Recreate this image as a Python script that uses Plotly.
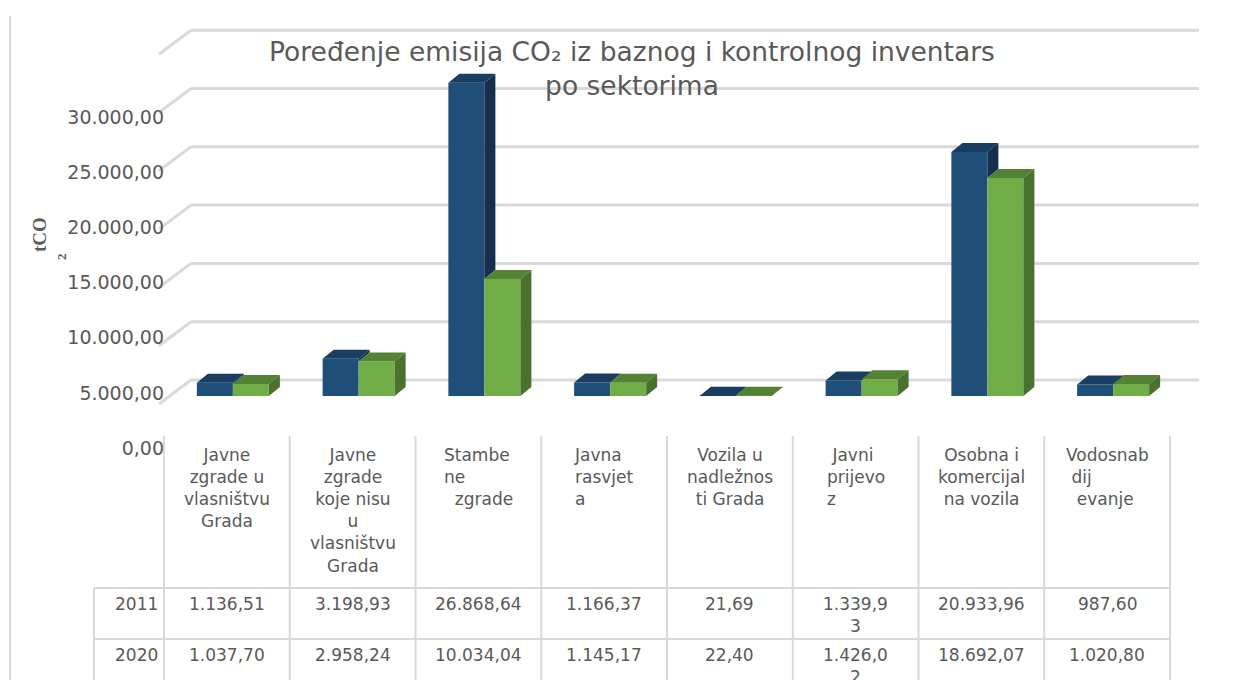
import plotly.graph_objects as go

# ---------------- data ----------------
categories = ["Javne zgrade u vlasništvu Grada", "Javne zgrade koje nisu u vlasništvu Grada",
              "Stambene zgrade", "Javna rasvjeta", "Vozila u nadležnosti Grada",
              "Javni prijevoz", "Osobna i komercijalna vozila", "Vodosnabdijevanje"]
header_labels = ["Javne<br>zgrade u<br>vlasništvu<br>Grada",
                 "Javne<br>zgrade<br>koje nisu<br>u<br>vlasništvu<br>Grada",
                 "Stambe<br>ne<br>&nbsp;&nbsp;zgrade",
                 "Javna<br>rasvjet<br>a",
                 "Vozila u<br>nadležnos<br>ti Grada",
                 "&nbsp;Javni<br>prijevo<br>z",
                 "Osobna i<br>komercijal<br>na vozila",
                 "Vodosnab<br>&nbsp;dij<br>&nbsp;&nbsp;evanje"]
header_align = ["center", "center", "left", "left", "center", "left", "center", "left"]
years = ["2011", "2020"]
values_2011 = [1136.51, 3198.93, 26868.64, 1166.37, 21.69, 1339.93, 20933.96, 987.60]
values_2020 = [1037.70, 2958.24, 10034.04, 1145.17, 22.40, 1426.02, 18692.07, 1020.80]
tick_values = [0, 5000, 10000, 15000, 20000, 25000, 30000]
title_text = "Poređenje emisija CO₂ iz baznog i kontrolnog inventars<br>po sektorima"
wrap_at = [None, None, None, None, None, 7, None, None]

# ---------------- geometry (screen pixels) ----------------
SCR_W, SCR_H = 1242, 680
PAGE_OFF = 8                      # default page margin of the html body
W, H = SCR_W - PAGE_OFF, SCR_H - PAGE_OFF
X0 = 164.0            # left edge of the first category column
COLW = 125.75         # category column width
Y0 = 396.0            # front baseline of the bars
K = 5000 / 58.3       # value units per pixel
BAR_W, BLUE_OFF, GREEN_OFF = 36, -30, 6
DEPTH_X, DEPTH_Y = 11, 9
BACK_DY = 16          # back wall is this many px above the front baseline
WALL_L, WALL_R = 191, 1199
DIAG_DX, DIAG_DY = -32, 24

TEXT = "#595959"
GRID = "#d9d9d9"
FONT = "DejaVu Sans"


def px2x(px):
    return (px - X0) / COLW - 0.5


def py2y(py):
    return (Y0 - py) * K


def px2p(px):
    return (px - PAGE_OFF) / W


def py2p(py):
    return 1 - (py - PAGE_OFF) / H


def fmt(v):
    s = f"{v:,.2f}"
    return s.replace(",", "X").replace(".", ",").replace("X", ".")


fig = go.Figure()

idx = list(range(len(categories)))
bw = BAR_W / COLW
dxu = DEPTH_X / COLW
dyu = DEPTH_Y * K

fig.add_trace(go.Bar(x=idx, y=values_2011, name=years[0], width=bw, offset=BLUE_OFF / COLW,
                     marker=dict(color="#1F4E79", line=dict(width=0)), hoverinfo="skip"))
fig.add_trace(go.Bar(x=idx, y=values_2020, name=years[1], width=bw, offset=GREEN_OFF / COLW,
                     marker=dict(color="#70AD47", line=dict(width=0)), hoverinfo="skip"))


def faces(values, off, lower=None):
    tx, ty, sx, sy = [], [], [], []
    for i, v in enumerate(values):
        l = i + off / COLW
        r = l + bw
        tx += [l, r, r + dxu, l + dxu, l, None]
        ty += [v, v, v + dyu, v + dyu, v, None]
        lo = 0 if lower is None else lower[i]
        if v > lo:
            sx += [r, r, r + dxu, r + dxu, r, None]
            sy += [lo, v, v + dyu, lo + dyu, lo, None]
    return tx, ty, sx, sy


btx, bty, bsx, bsy = faces(values_2011, BLUE_OFF, lower=values_2020)
gtx, gty, gsx, gsy = faces(values_2020, GREEN_OFF)
for xs, ys, col in [(btx, bty, "#1A3D62"), (bsx, bsy, "#152F4D"),
                    (gtx, gty, "#548235"), (gsx, gsy, "#4A7130")]:
    fig.add_trace(go.Scatter(x=xs, y=ys, mode="lines", fill="toself", fillcolor=col,
                             line=dict(width=0, color=col), hoverinfo="skip", showlegend=False))

# invisible trace for the tick-label axis
fig.add_trace(go.Scatter(x=[None], y=[None], yaxis="y2", showlegend=False, hoverinfo="skip"))

shapes = []
# back wall gridlines with diagonal floor connectors
for v in tick_values:
    yb = v + BACK_DY * K
    shapes.append(dict(type="line", xref="x", yref="y", x0=px2x(WALL_L), x1=px2x(WALL_R),
                       y0=yb, y1=yb, line=dict(color=GRID, width=3), layer="below"))
    shapes.append(dict(type="line", xref="x", yref="y", x0=px2x(WALL_L), x1=px2x(WALL_L + DIAG_DX),
                       y0=yb, y1=yb - DIAG_DY * K, line=dict(color=GRID, width=3), layer="below"))

# chart border on the left
shapes.append(dict(type="line", xref="paper", yref="paper", x0=px2p(10), x1=px2p(10),
                   y0=py2p(16), y1=0, line=dict(color=GRID, width=2)))

# data table grid
TAB_TOP, ROW1, ROW2, TAB_L = 436, 588, 639, 94
ncol = len(categories)
for j in range(ncol + 1):
    xp = X0 + j * COLW
    shapes.append(dict(type="line", xref="paper", yref="paper", x0=px2p(xp), x1=px2p(xp),
                       y0=py2p(TAB_TOP), y1=0, line=dict(color=GRID, width=2)))
for yp in (ROW1, ROW2):
    shapes.append(dict(type="line", xref="paper", yref="paper", x0=px2p(TAB_L), x1=px2p(X0 + ncol * COLW),
                       y0=py2p(yp), y1=py2p(yp), line=dict(color=GRID, width=2)))
shapes.append(dict(type="line", xref="paper", yref="paper", x0=px2p(TAB_L), x1=px2p(TAB_L),
                   y0=py2p(ROW1), y1=0, line=dict(color=GRID, width=2)))

annotations = []
tfont = dict(family=FONT, size=17, color=TEXT)
for i, lab in enumerate(header_labels):
    annotations.append(dict(x=i, xref="x", y=py2p(443), yref="paper", yanchor="top",
                            text=lab, showarrow=False, align=header_align[i], font=tfont))
for r, (yr, vals) in enumerate(zip(years, [values_2011, values_2020])):
    ytop = (ROW1, ROW2)[r] + 4
    annotations.append(dict(x=px2p(160), xref="paper", xanchor="right", y=py2p(ytop), yref="paper",
                            yanchor="top", text=yr, showarrow=False, font=tfont))
    for i, v in enumerate(vals):
        s = fmt(v)
        if wrap_at[i] and len(s) > wrap_at[i]:
            s = s[:wrap_at[i]] + "<br>" + s[wrap_at[i]:]
        annotations.append(dict(x=i, xref="x", y=py2p(ytop), yref="paper", yanchor="top",
                                text=s, showarrow=False, font=tfont))

# axis title
annotations.append(dict(x=px2p(39), y=py2p(235), xref="paper", yref="paper", text="tCO",
                        xanchor="center", yanchor="middle",
                        textangle=-90, showarrow=False,
                        font=dict(family="Liberation Serif", size=19, color=TEXT, weight="bold")))
annotations.append(dict(x=px2p(61), y=py2p(257), xref="paper", yref="paper", text="2",
                        xanchor="center", yanchor="middle",
                        textangle=-90, showarrow=False,
                        font=dict(family="Liberation Serif", size=13, color=TEXT, weight="bold")))

# tick-label axis: 5.000 -> 393 px, 30.000 -> 117 px
LAB_A_V, LAB_A_P, LAB_B_V, LAB_B_P = 5000, 393.0, 30000, 117.0
slope = (LAB_B_V - LAB_A_V) / (LAB_A_P - LAB_B_P)
lab_range = [LAB_A_V - (SCR_H - LAB_A_P) * slope, LAB_A_V + (LAB_A_P - PAGE_OFF) * slope]

fig.update_layout(
    width=W, height=H, autosize=False,
    margin=dict(l=0, r=0, t=0, b=0, pad=0),
    paper_bgcolor="white", plot_bgcolor="rgba(0,0,0,0)",
    barmode="overlay", showlegend=False,
    title=dict(text=title_text, x=px2p(632), xanchor="center", xref="paper",
               y=py2p(61), yanchor="middle", yref="paper",
               font=dict(family=FONT, size=26.5, color=TEXT)),
    xaxis=dict(range=[px2x(PAGE_OFF), px2x(SCR_W)], visible=False, fixedrange=True),
    yaxis=dict(range=[py2y(SCR_H), py2y(PAGE_OFF)], visible=False, fixedrange=True),
    yaxis2=dict(overlaying="y", anchor="free", position=px2p(X0), side="left",
                range=lab_range, tickvals=tick_values, ticktext=[fmt(v) for v in tick_values],
                showgrid=False, zeroline=False, showline=False, ticks="",
                tickfont=dict(family=FONT, size=19, color=TEXT), fixedrange=True),
    shapes=shapes, annotations=annotations,
)

fig.write_html("out.html")
